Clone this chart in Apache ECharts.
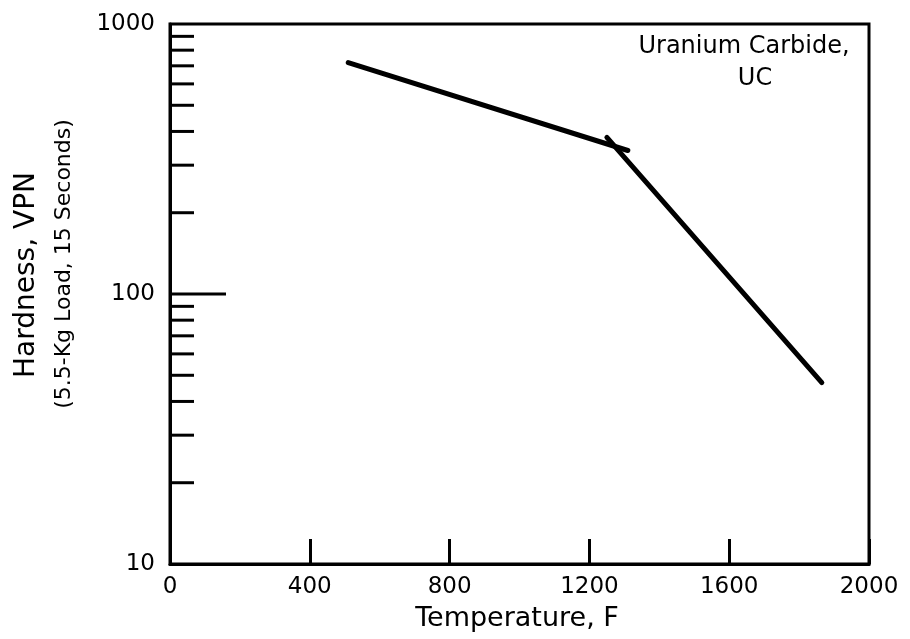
<!DOCTYPE html>
<html>
<head>
<meta charset="utf-8">
<script src="https://cdn.jsdelivr.net/npm/echarts@6/dist/echarts.min.js"></script>
<style>
  html, body { margin: 0; padding: 0; background: #fff; }
  #chart { width: 910px; height: 639px; }
</style>
</head>
<body>
<div id="chart"></div>
<script>
// Hardness of uranium carbide (UC) versus temperature
const lowRangeTemp = [510, 1310];     // F
const lowRangeHard = [720, 340];      // VPN
const highRangeTemp = [1250, 1865];   // F
const highRangeHard = [380, 47];      // VPN

const xTicks = [0, 400, 800, 1200, 1600, 2000];
const yLabels = [10, 100, 1000];
const yMinorTicks = [20, 30, 40, 50, 60, 70, 80, 90, 200, 300, 400, 500, 600, 700, 800, 900];
const yMajorTicks = [100];

const FONT = 'DejaVu Sans';

// short inward ticks on the hardness axis, drawn at each value
function tickSeries(values, len) {
  return {
    type: 'custom',
    silent: true,
    data: values.map(v => [0, v]),
    encode: { x: 0, y: 1 },
    renderItem: function (params, api) {
      const p = api.coord([api.value(0), api.value(1)]);
      return {
        type: 'line',
        shape: { x1: p[0], y1: p[1], x2: p[0] + len, y2: p[1] },
        style: { stroke: '#000', lineWidth: 3 }
      };
    },
    z: 5
  };
}

const chart = echarts.init(document.getElementById('chart'), null, { renderer: 'canvas' });
chart.setOption({
  backgroundColor: '#fff',
  animation: false,
  grid: {
    left: 170, top: 24, width: 699, height: 540,
    show: true, borderColor: '#000', borderWidth: 3, backgroundColor: 'transparent'
  },
  xAxis: {
    type: 'value',
    min: xTicks[0],
    max: xTicks[xTicks.length - 1],
    interval: 400,
    axisLine: { show: true, lineStyle: { color: '#000', width: 3 } },
    axisTick: { show: true, inside: true, length: 25, lineStyle: { color: '#000', width: 3 } },
    axisLabel: { color: '#000', fontFamily: FONT, fontSize: 23, margin: 12, formatter: v => String(v) },
    splitLine: { show: false }
  },
  yAxis: {
    type: 'log',
    logBase: 10,
    min: yLabels[0],
    max: yLabels[yLabels.length - 1],
    axisLine: { show: true, lineStyle: { color: '#000', width: 3 } },
    axisTick: { show: false },
    minorTick: { show: false },
    axisLabel: {
      color: '#000', fontFamily: FONT, fontSize: 23, margin: 15,
      formatter: v => (yLabels.indexOf(Math.round(v)) >= 0 ? String(Math.round(v)) : '')
    },
    splitLine: { show: false }
  },
  graphic: [
    {
      type: 'text', x: 27, y: 275, rotation: Math.PI / 2,
      style: { text: 'Hardness, VPN', font: '28px "DejaVu Sans"', fill: '#000', align: 'center', verticalAlign: 'middle' }
    },
    {
      type: 'text', x: 64, y: 264, rotation: Math.PI / 2,
      style: { text: '(5.5-Kg Load, 15 Seconds)', font: '22px "DejaVu Sans"', fill: '#000', align: 'center', verticalAlign: 'middle' }
    },
    {
      type: 'text', x: 517, y: 619,
      style: { text: 'Temperature, F', font: '27px "DejaVu Sans"', fill: '#000', align: 'center', verticalAlign: 'middle' }
    },
    {
      type: 'text', x: 744, y: 47,
      style: { text: 'Uranium Carbide,', font: '24px "DejaVu Sans"', fill: '#000', align: 'center', verticalAlign: 'middle' }
    },
    {
      type: 'text', x: 755, y: 79,
      style: { text: 'UC', font: '24px "DejaVu Sans"', fill: '#000', align: 'center', verticalAlign: 'middle' }
    }
  ],
  series: [
    {
      type: 'line',
      data: lowRangeTemp.map((t, i) => [t, lowRangeHard[i]]),
      showSymbol: false,
      lineStyle: { color: '#000', width: 5, cap: 'round' },
      z: 6
    },
    {
      type: 'line',
      data: highRangeTemp.map((t, i) => [t, highRangeHard[i]]),
      showSymbol: false,
      lineStyle: { color: '#000', width: 5, cap: 'round' },
      z: 6
    },
    tickSeries(yMinorTicks, 24),
    tickSeries(yMajorTicks, 56)
  ]
});
</script>
</body>
</html>
